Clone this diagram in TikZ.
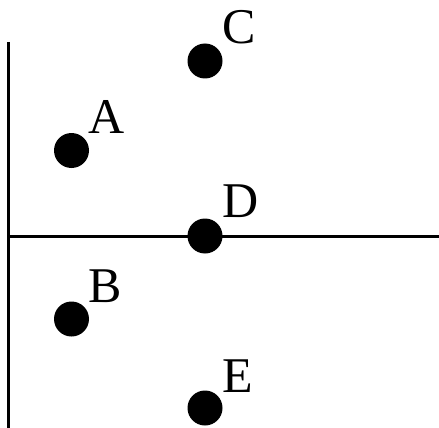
\documentclass[tikz,border=0pt]{standalone}
\usepackage{fontspec}
\setmainfont{Liberation Serif}
\begin{document}
\begin{tikzpicture}[x=1pt,y=-1pt,
  dot/.style={circle,fill=black,inner sep=0pt,minimum size=35pt},
  lab/.style={anchor=base west,inner sep=0pt,font=\fontsize{50}{50}\selectfont},
  axis/.style={line width=3pt}]
\useasboundingbox (0,0) rectangle (439,428);
\coordinate (vtop) at (8,42);
\coordinate (vbot) at (8,428);
\coordinate (hl) at (8,236);
\coordinate (hr) at (439,236);
\draw[axis] (vtop) -- (vbot);
\draw[axis] (hl) -- (hr);
\node[dot] (A) at (71.5,150.5) {};
\node[dot] (B) at (71.5,319) {};
\node[dot] (C) at (205,61) {};
\node[dot] (D) at (205,236) {};
\node[dot] (E) at (205,408) {};
\node[lab] (lA) at ([shift={(17,-17)}]A.center) {A};
\node[lab] (lB) at ([shift={(17,-17)}]B.center) {B};
\node[lab] (lC) at ([shift={(17,-17)}]C.center) {C};
\node[lab] (lD) at ([shift={(17,-19)}]D.center) {D};
\node[lab] (lE) at ([shift={(17,-16)}]E.center) {E};
\end{tikzpicture}
\end{document}
